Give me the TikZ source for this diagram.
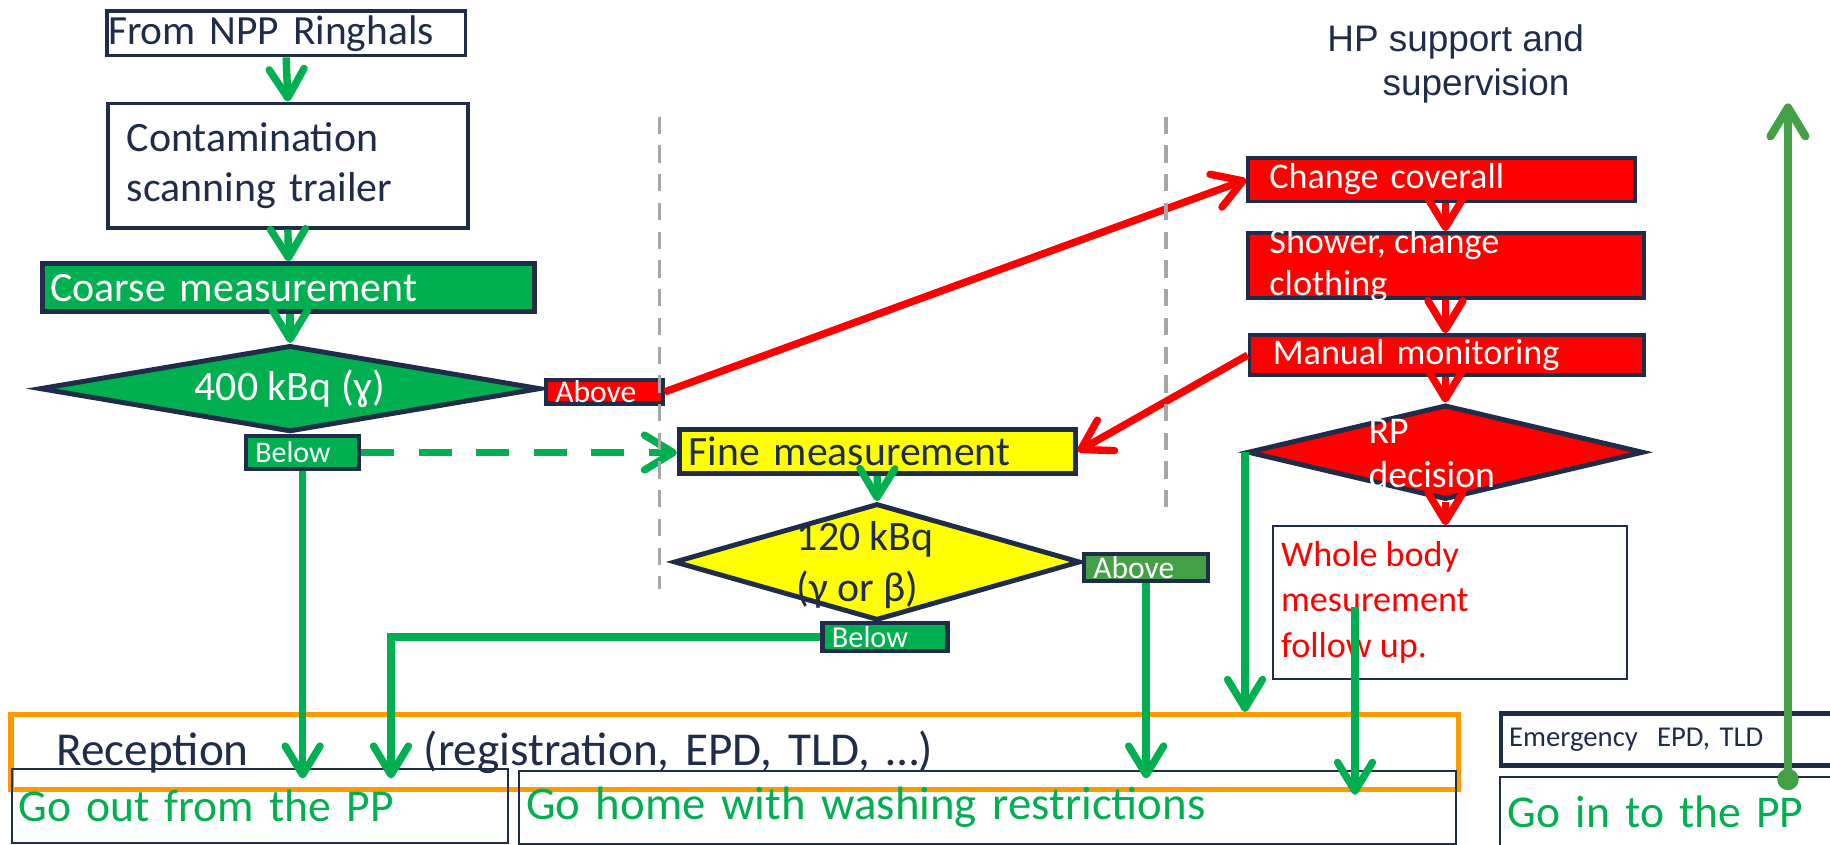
\documentclass[tikz,border=0pt]{standalone}
\usepackage{fontspec}
\setmainfont{Carlito}
\newfontfamily\hpfont{Liberation Sans}
\usetikzlibrary{shapes.geometric}
\usetikzlibrary{arrows.meta}
\definecolor{navy}{HTML}{1F2C4A}
\definecolor{flowgreen}{HTML}{00B050}
\definecolor{leafgreen}{HTML}{43A047}
\definecolor{alarmred}{HTML}{FF0000}
\definecolor{fineyellow}{HTML}{FFFF00}
\definecolor{recorange}{HTML}{FF9900}
\definecolor{sepgrey}{HTML}{A6A6A6}
\newcommand{\flowfont}[2] % size, line skip
{\fontsize{#1}{#2}\selectfont}
\tikzset{
	box/.style={draw=navy, line width=0.9pt, anchor=north west, inner ysep=0pt, align=left, text=navy},
	thinbox/.style={box, line width=0.5pt},
	tag/.style={box, line width=1pt, text=white, inner xsep=0.08cm, font=\flowfont{7.7pt}{9pt}},
	dec/.style={diamond, draw=navy, line width=1.2pt, inner sep=0pt},
	lines/.style={anchor=base west, inner sep=0pt, align=left}, % anchored at the LAST line
	garrow/.style={draw=flowgreen, line width=1.8pt, -{Straight Barb[length=7pt,width=8.5pt,round]}},
	rarrow/.style={garrow, draw=alarmred},
	sepline/.style={draw=sepgrey, line width=0.8pt, dash pattern=on 4.2pt off 2.8pt}
}
\begin{document}
\begin{tikzpicture}[x=0.01cm, y=-0.01cm]
	% frame 1568 x 724, y runs downwards
	\clip (0,0) rectangle (1568,724);
	% left column: coarse check
	\node[box, inner xsep=0.01cm, text width=3.05cm, minimum height=0.38cm, font=\flowfont{10.1pt}{11pt}] (ringhals) at (90,8) {From NPP Ringhals};
	\node[box, inner xsep=0.16cm, text width=2.76cm, minimum height=1.065cm, font=\flowfont{10.2pt}{12.2pt}] (trailer) at (91,87) {Contamination\\scanning trailer};
	\node[box, line width=1.2pt, fill=flowgreen, text=white, inner xsep=0.07cm, text width=4.08cm, minimum height=0.41cm, font=\flowfont{10.2pt}{12pt}] (coarse) at (34,224) {Coarse measurement};
	\node[dec, fill=flowgreen, text=white, aspect=5.8, minimum width=4.29cm, minimum height=0.74cm, font=\flowfont{10.2pt}{12pt}] (coarsedec) at (248.5,333) {400 kBq (ɣ)};
	\node[tag, fill=alarmred, text width=0.84cm, minimum height=0.2cm] (coarseabove) at (466,324) {Above};
	\node[tag, fill=flowgreen, text width=0.81cm, minimum height=0.28cm, font=\flowfont{7.3pt}{9pt}] (coarsebelow) at (209,372) {Below};
	% middle column: fine check
	\node[box, line width=1.2pt, fill=fineyellow, inner xsep=0.08cm, text width=3.23cm, minimum height=0.38cm, font=\flowfont{10.15pt}{12pt}] (fine) at (580,365.6) {Fine measurement};
	\node[dec, fill=fineyellow, minimum width=3.48cm, minimum height=1cm] (finedec) at (751.5,481.5) {};
	\node[lines, text=navy, font=\flowfont{10.2pt}{12.2pt}] (finedectext) at (682,515) {120 kBq\\(γ or β)};
	\node[tag, fill=leafgreen, text width=0.905cm, minimum height=0.23cm] (fineabove) at (927,473) {Above};
	\node[tag, fill=flowgreen, text width=0.91cm, minimum height=0.24cm, font=\flowfont{7.4pt}{9pt}] (finebelow) at (703,532) {Below};
	% right column: HP support
	\node[lines, text=navy, font=\hpfont\flowfont{9pt}{10.8pt}] (hp) at (1136.6,82) {HP support and\\\hspace*{0.474cm}supervision};
	\node[box, fill=alarmred, text=white, inner xsep=0.18cm, text width=2.95cm, minimum height=0.375cm, font=\flowfont{8.8pt}{10.2pt}] (change) at (1068,133.5) {Change coverall};
	\node[box, fill=alarmred, minimum width=3.39cm, minimum height=0.56cm] (shower) at (1068,198) {};
	\node[lines, text=white, font=\flowfont{8.8pt}{10.2pt}] (showertext) at (1087,253) {Shower, change\\clothing};
	\node[box, fill=alarmred, text=white, inner xsep=0.2cm, text width=2.98cm, minimum height=0.345cm, font=\flowfont{8.8pt}{10.2pt}] (manual) at (1069,285.5) {Manual monitoring};
	\node[dec, fill=alarmred, minimum width=3.39cm, minimum height=0.81cm] (rpdec) at (1238.5,387.5) {};
	\node[lines, text=white, font=\flowfont{9.2pt}{10.8pt}] (rptext) at (1172,418) {RP\\decision};
	\node[thinbox, minimum width=3.03cm, minimum height=1.31cm] (wholebody) at (1090,450) {};
	\node[lines, text=alarmred, font=\flowfont{8.8pt}{11pt}] (wholebodytext) at (1097,563) {Whole body\\mesurement\\follow up.};
	% bottom row: exits
	\node[box, draw=recorange, line width=1.3pt, inner xsep=0.39cm, text width=11.617cm, minimum height=0.64cm, font=\flowfont{11.5pt}{13pt}] (reception) at (7,610) {Reception\hspace{1.5cm}(registration, EPD, TLD, …)};
	\node[thinbox, text=flowgreen, inner xsep=0.06cm, text width=4.13cm, minimum height=0.63cm, font=\flowfont{11.1pt}{13pt}] (goout) at (9,658) {Go out from the PP};
	\node[thinbox, text=flowgreen, inner xsep=0.06cm, text width=7.9cm, minimum height=0.62cm, font=\flowfont{11.4pt}{13pt}] (gohome) at (444,660) {Go home with washing restrictions};
	\node[box, line width=1.2pt, inner xsep=0.07cm, text width=2.86cm, minimum height=0.45cm, font=\flowfont{7pt}{8.5pt}] (emergency) at (1284,609) {Emergency\ \ EPD, TLD};
	\node[thinbox, text=flowgreen, inner xsep=0.07cm, text width=2.86cm, minimum height=0.6cm, font=\flowfont{11.1pt}{13pt}] (goin) at (1284,665) {Go in to the PP};
	% free ends
	\coordinate (outlevel) at (0,667);
	\coordinate (outturn) at (335,667);
	\coordinate (wbfrom) at (1161,520);
	\coordinate (wbto) at (1161,681);
	\coordinate (goinfoot) at (1532,677);
	\coordinate (goinhead) at (1532,88.6);
	% green flow
	\draw[garrow] (ringhals.south) -- (trailer.north);
	\draw[garrow] (trailer.south) -- (coarse.north);
	\draw[garrow] (coarse.south -| coarsedec.north) -- (coarsedec.north);
	\draw[garrow, dash pattern=on 8pt off 6pt] (coarsebelow.east) -- (coarsebelow.east -| fine.west);
	\draw[garrow] (coarsebelow.south) -- (coarsebelow.south |- outlevel);
	\draw[garrow] (fine.south) -- (finedec.north);
	\draw[garrow] (finebelow.west) -| (outturn);
	\draw[garrow] (fineabove.south) -- (fineabove.south |- outlevel);
	\draw[garrow] (rpdec.west) -- (rpdec.west |- reception.north);
	\draw[garrow] (wbfrom) -- (wbto);
	\draw[garrow, draw=leafgreen, line width=2pt, {Circle[length=5.2pt]}-{Straight Barb[length=7pt,width=8.5pt,round]}] (goinfoot) -- (goinhead);
	% red flow
	\draw[rarrow] (coarseabove.east) -- (change.west);
	\draw[rarrow] (manual.west) -- (fine.east);
	\draw[rarrow] (change.south -| rpdec) -- (shower.north -| rpdec);
	\draw[rarrow] (shower.south -| rpdec) -- (manual.north -| rpdec);
	\draw[rarrow] (manual.south -| rpdec) -- (rpdec.north);
	\draw[rarrow] (rpdec.south) -- (rpdec.south |- wholebody.north);
	% separators
	\draw[sepline] (565,100) -- (565,505);
	\draw[sepline] (999,100) -- (999,434.5);
\end{tikzpicture}
\end{document}
